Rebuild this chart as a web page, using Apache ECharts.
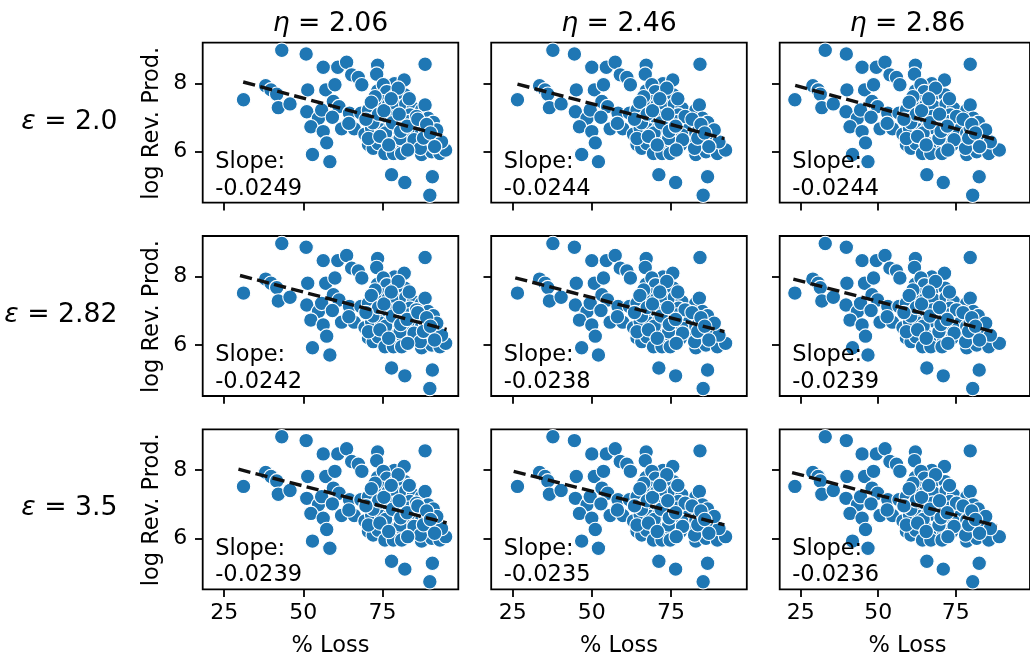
<!DOCTYPE html>
<html><head><meta charset="utf-8">
<script src="https://cdn.jsdelivr.net/npm/echarts@6/dist/echarts.min.js"></script>
<style>html,body{margin:0;padding:0;background:#fff}#c{width:1030px;height:659px}</style>
</head><body><div id="c"></div>
<script>
// ---------- data ----------
const etaValues = ['2.06', '2.46', '2.86'];
const epsValues = ['2.0', '2.82', '3.5'];
const slopes = [
  [-0.0249, -0.0244, -0.0244],
  [-0.0242, -0.0238, -0.0239],
  [-0.0239, -0.0235, -0.0236]
];
const intercepts = [
  [8.812, 8.625, 8.505],
  [8.761, 8.580, 8.470],
  [8.728, 8.556, 8.447]
];
const fitStartX = [
  [31.0, 26.5, 23.2],
  [30.0, 25.8, 22.6],
  [29.5, 25.3, 22.2]
];
const fitEndX = [
  [95.3, 91.9, 88.3],
  [95.3, 91.9, 88.3],
  [95.3, 91.9, 88.3]
];
const xTickValues = [25, 50, 75];
const yTickValues = [6, 8];
const xAxisTitle = '% Loss';
const yAxisTitle = 'log Rev. Prod.';

const logRevProd = [
  8.97, 8.86, 7.52, 8.47, 8.47, 8.62, 8.25, 8.17, 7.96, 8.53,
  8.27, 8.56, 7.93, 7.81, 7.68, 7.29, 7.40, 7.81, 7.81, 7.96,
  7.17, 6.98, 7.22, 6.73, 6.59, 6.26, 5.92, 5.71, 7.47, 7.32,
  7.01, 6.67, 7.13, 6.67, 6.83, 6.51, 6.21, 6.10, 7.13,
  7.99, 8.10, 7.78, 7.96, 7.76, 7.64, 7.66, 7.86, 7.32, 7.47,
  7.37, 7.32, 7.39, 7.27, 7.22, 6.98, 6.83, 6.98, 7.03, 6.93,
  7.08, 6.73, 6.68, 6.64, 6.68, 6.70, 6.54, 6.49, 6.54, 6.24,
  6.34, 6.15, 6.20, 6.20, 6.24, 6.21, 5.95, 5.95, 5.95, 5.92,
  6.00, 5.95, 6.05, 7.22, 7.37, 6.98, 6.86, 6.68, 6.39, 6.29,
  6.64, 5.33, 5.10, 4.73, 5.27, 7.61, 6.39, 6.88, 7.03, 6.39,
  7.45, 6.85, 7.10, 7.20, 6.55, 7.55, 6.85, 7.10, 6.60, 6.75,
  7.55, 6.35, 6.95, 6.10, 6.40, 6.80, 6.55, 6.15, 6.45, 6.20,
  6.05, 6.95
];
const lossEta206 = [
  43.2, 50.9, 31.1, 56.3, 60.9, 63.7, 65.3, 67.4, 68.5, 73.5,
  73.2, 88.5, 38.1, 39.8, 41.6, 42.1, 45.8, 51.4, 57.1, 60.0,
  51.1, 54.8, 55.8, 52.4, 56.3, 57.4, 52.9, 58.4, 59.5, 61.3,
  59.2, 62.1, 64.6, 66.1, 64.4, 69.5, 70.6, 72.1, 68.2,
  78.8, 81.9, 73.5, 75.3, 76.4, 79.0, 82.1, 80.0, 73.2, 74.8,
  76.9, 79.5, 82.4, 84.8, 70.6, 72.7, 74.8, 76.9, 79.0, 81.6,
  83.7, 85.8, 71.6, 74.8, 77.4, 79.5, 82.1, 84.8, 87.4, 73.7,
  76.4, 79.0, 81.6, 84.3, 86.9, 89.5, 75.8, 78.5, 81.1, 87.4,
  90.6, 93.2, 95.0, 87.4, 88.5, 89.5, 91.1, 88.5, 91.6, 93.7,
  92.2, 77.9, 82.1, 90.0, 90.8, 72.7, 70.6, 83.2, 85.8, 80.6,
  71.5, 72.0, 73.8, 75.5, 76.0, 77.8, 78.2, 80.3, 80.8, 82.8,
  83.5, 85.0, 86.2, 87.0, 88.0, 89.0, 90.2, 91.5, 74.2, 77.0,
  83.0, 69.8
];
const lossEta246 = [
  37.7, 44.5, 26.5, 50.0, 54.6, 57.4, 59.0, 61.1, 62.2, 67.2,
  66.9, 84.2, 33.5, 35.2, 36.1, 36.6, 40.3, 45.1, 50.8, 53.7,
  44.8, 48.5, 49.5, 46.1, 50.0, 51.1, 46.8, 52.1, 53.2, 55.0,
  52.9, 55.8, 58.3, 59.8, 58.1, 63.2, 64.3, 65.8, 61.9,
  72.5, 75.6, 67.2, 69.0, 70.1, 72.7, 75.8, 73.7, 66.9, 68.5,
  70.6, 73.2, 76.1, 78.5, 64.3, 66.4, 68.5, 70.6, 72.7, 75.3,
  77.4, 79.5, 65.3, 68.5, 71.1, 73.2, 75.8, 78.5, 82.9, 67.4,
  70.1, 72.7, 75.3, 78.0, 82.4, 85.0, 69.5, 72.2, 74.8, 82.9,
  86.1, 89.7, 92.3, 82.9, 84.0, 85.0, 86.6, 84.0, 87.1, 90.2,
  88.7, 71.2, 76.5, 85.2, 86.6, 66.4, 64.3, 76.9, 79.5, 74.3,
  65.2, 65.7, 67.5, 69.2, 69.7, 71.5, 71.9, 74.0, 74.5, 76.5,
  77.2, 78.7, 81.7, 82.5, 83.5, 84.5, 85.7, 87.0, 67.9, 70.7,
  76.7, 63.5
];
const lossEta286 = [
  32.9, 39.7, 23.1, 44.8, 49.4, 52.2, 53.8, 55.9, 57.0, 62.0,
  61.7, 79.7, 28.9, 30.6, 31.3, 31.8, 35.5, 39.9, 45.6, 48.5,
  39.6, 43.3, 44.3, 40.9, 44.8, 45.9, 41.7, 46.7, 48.0, 49.8,
  47.7, 50.6, 53.1, 54.6, 52.9, 58.0, 59.1, 60.6, 56.7,
  67.3, 71.4, 62.0, 63.8, 64.9, 67.5, 71.6, 68.5, 61.7, 63.3,
  65.4, 68.0, 71.9, 74.3, 59.1, 61.2, 63.3, 65.4, 67.5, 71.1,
  73.2, 75.3, 60.1, 63.3, 65.9, 68.0, 71.6, 74.3, 78.6, 62.2,
  64.9, 67.5, 71.1, 73.8, 78.1, 80.7, 64.3, 67.0, 70.6, 78.6,
  81.8, 85.7, 89.1, 78.6, 79.7, 80.7, 82.3, 79.7, 82.8, 86.2,
  84.7, 65.7, 71.0, 80.5, 82.6, 61.2, 59.1, 72.7, 75.3, 69.6,
  60.0, 60.5, 62.3, 64.0, 64.5, 66.3, 66.7, 69.8, 70.3, 72.3,
  73.0, 74.5, 77.4, 78.2, 79.2, 80.2, 81.4, 82.7, 62.7, 65.5,
  72.5, 58.3
];
const lossByColumn = [lossEta206, lossEta246, lossEta286];

// ---------- layout / style ----------
const FONT = 'DejaVu Sans';
const L0 = 202.7, T0 = 42.7, W = 255.6, H = 160, DX = 288.5, DY = 193.3;
const X_MIN = 18.2, X_MAX = 99.0, Y_MIN = 4.51, Y_MAX = 9.19;
const TICK_FS = 22, TEXT_FS = 22.5, TITLE_FS = 26.7;
const BLUE = '#1f77b4';

const grids = [], xAxes = [], yAxes = [], series = [], graphics = [];

for (let r = 0; r < 3; r++) {
  for (let c = 0; c < 3; c++) {
    const idx = r * 3 + c;
    const left = L0 + c * DX, top = T0 + r * DY;
    grids.push({ left: left, top: top, width: W, height: H, show: true,
      borderColor: '#000', borderWidth: 1.8, backgroundColor: 'transparent' });
    xAxes.push({ gridIndex: idx, type: 'value', min: X_MIN, max: X_MAX,
      axisLine: { show: false }, splitLine: { show: false },
      axisTick: { show: true, inside: false, length: 7.7, customValues: xTickValues,
        lineStyle: { color: '#000', width: 1.8 } },
      axisLabel: { show: r === 2, customValues: xTickValues, margin: 13,
        fontSize: TICK_FS, fontFamily: FONT, color: '#000' } });
    yAxes.push({ gridIndex: idx, type: 'value', min: Y_MIN, max: Y_MAX,
      axisLine: { show: false }, splitLine: { show: false },
      axisTick: { show: true, inside: false, length: 7.7, customValues: yTickValues,
        lineStyle: { color: '#000', width: 1.8 } },
      axisLabel: { show: c === 0, customValues: yTickValues, margin: 15.5,
        fontSize: TICK_FS, fontFamily: FONT, color: '#000' } });

    const xs = lossByColumn[c];
    series.push({ type: 'scatter', xAxisIndex: idx, yAxisIndex: idx,
      data: logRevProd.map((y, i) => [xs[i], y]),
      symbol: 'circle', symbolSize: 14.5,
      itemStyle: { color: BLUE, borderColor: '#fff', borderWidth: 1.1, opacity: 1 },
      z: 2, silent: true });

    const s = slopes[r][c], b = intercepts[r][c];
    const x0 = fitStartX[r][c], x1 = fitEndX[r][c];
    series.push({ type: 'line', xAxisIndex: idx, yAxisIndex: idx,
      data: [[x0, b + s * x0], [x1, b + s * x1]],
      symbol: 'none', showSymbol: false, silent: true,
      lineStyle: { color: '#111', width: 3.4, type: [12.3, 5.3] }, z: 3 });

    graphics.push({ type: 'text', x: left + 12.5, y: top + H - 0.5, z: 10,
      style: { text: 'Slope:\n' + s.toFixed(4), fontSize: TEXT_FS, fontFamily: FONT,
        fill: '#000', lineHeight: 26.6, align: 'left', verticalAlign: 'bottom',
        textAlign: 'left', textVerticalAlign: 'bottom' } });
  }
}

// column titles and x titles
for (let c = 0; c < 3; c++) {
  graphics.push({ type: 'text', x: L0 + c * DX + W / 2, y: 24,
    style: { text: '{e|η}{n| = ' + etaValues[c] + '}', fill: '#000',
      align: 'center', verticalAlign: 'middle', textAlign: 'center', textVerticalAlign: 'middle',
      rich: { e: { fontStyle: 'italic', fontSize: TITLE_FS, fontFamily: FONT, fill: '#000' },
              n: { fontSize: TITLE_FS, fontFamily: FONT, fill: '#000' } } } });
  graphics.push({ type: 'text', x: L0 + c * DX + W / 2, y: 645.7,
    style: { text: xAxisTitle, fontSize: TEXT_FS, fontFamily: FONT, fill: '#000',
      align: 'center', verticalAlign: 'middle', textAlign: 'center', textVerticalAlign: 'middle' } });
}
// row labels and y titles
for (let r = 0; r < 3; r++) {
  const cy = T0 + r * DY + H / 2;
  graphics.push({ type: 'text', x: 117.5, y: cy - 1,
    style: { text: '{e|ε}{n| = ' + epsValues[r] + '}', fill: '#000',
      align: 'right', verticalAlign: 'middle', textAlign: 'right', textVerticalAlign: 'middle',
      rich: { e: { fontStyle: 'italic', fontSize: TITLE_FS, fontFamily: FONT, fill: '#000' },
              n: { fontSize: TITLE_FS, fontFamily: FONT, fill: '#000' } } } });
  graphics.push({ type: 'text', x: 151.7, y: cy + 0.5, rotation: Math.PI / 2,
    style: { text: yAxisTitle, fontSize: TEXT_FS, fontFamily: FONT, fill: '#000',
      align: 'center', verticalAlign: 'middle', textAlign: 'center', textVerticalAlign: 'middle' } });
}

const chart = echarts.init(document.getElementById('c'), null, { renderer: 'canvas' });
chart.setOption({
  animation: false,
  backgroundColor: '#fff',
  grid: grids, xAxis: xAxes, yAxis: yAxes, series: series, graphic: graphics
});
</script>
</body></html>
